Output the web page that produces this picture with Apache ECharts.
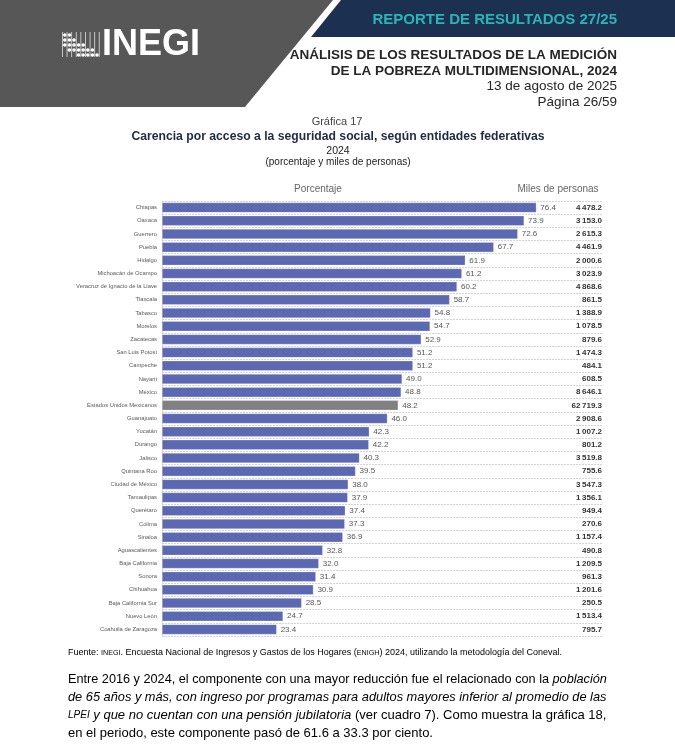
<!DOCTYPE html>
<html><head><meta charset="utf-8">
<script src="https://cdn.jsdelivr.net/npm/echarts@6/dist/echarts.min.js"></script>
<style>html,body{margin:0;padding:0;background:#fff}#c{width:675px;height:748px}</style>
</head><body><div id="c"></div>
<script>
const states = ["Chiapas","Oaxaca","Guerrero","Puebla","Hidalgo","Michoacán de Ocampo","Veracruz de Ignacio de la Llave","Tlaxcala","Tabasco","Morelos","Zacatecas","San Luis Potosí","Campeche","Nayarit","México","Estados Unidos Mexicanos","Guanajuato","Yucatán","Durango","Jalisco","Quintana Roo","Ciudad de México","Tamaulipas","Querétaro","Colima","Sinaloa","Aguascalientes","Baja California","Sonora","Chihuahua","Baja California Sur","Nuevo León","Coahuila de Zaragoza"];
const percent = [76.4,73.9,72.6,67.7,61.9,61.2,60.2,58.7,54.8,54.7,52.9,51.2,51.2,49.0,48.8,48.2,46.0,42.3,42.2,40.3,39.5,38.0,37.9,37.4,37.3,36.9,32.8,32.0,31.4,30.9,28.5,24.7,23.4];
const miles = [4478.2,3153.0,2615.3,4461.9,2000.6,3023.9,4868.6,861.5,1388.9,1078.5,879.6,1474.3,484.1,608.5,8646.1,62719.3,2908.6,1007.2,801.2,3519.8,755.6,3547.3,1356.1,949.4,270.6,1157.4,490.8,1209.5,961.3,1201.6,250.5,1513.4,795.7];
const nationalName = "Estados Unidos Mexicanos";

function fmtMiles(v){
  const parts = v.toFixed(1).split('.');
  return parts[0].replace(/\B(?=(\d{3})+(?!\d))/g, '\u2009') + '.' + parts[1];
}
const FONT = '"Liberation Sans", Arial, sans-serif';
const chart = echarts.init(document.getElementById('c'), null, {renderer:'canvas'});

// logo pattern (decorative)
const logo = [];
const lx = 62, ly = 32;
for (let i=0;i<9;i++){
  logo.push({type:'rect', shape:{x:lx+i*4.6, y:ly, width:0.9, height:25}, style:{fill:'#d0d0d0'}});
}
const dotRows = [[0,1,2],[0,1,2,3],[1,2,3],[2,3,4],[2,3,4],[3,4],[3,4],[4]];
dotRows.forEach((rows,i)=>{
  rows.forEach(j=>{
    logo.push({type:'circle', shape:{cx:lx+2.8+i*4.6, cy:ly+3+j*5, r:1.8}, style:{fill:'#ffffff'}});
  });
});

const textLines = [
  {y:679, fs:12.7, rich:[['n','Entre 2016 y 2024, el componente con una mayor reducción fue el relacionado con la '],['i','población']]},
  {y:697, fs:12.8, rich:[['i','de 65 años y más, con ingreso por programas para adultos mayores inferior al promedio de las']]},
  {y:715, fs:13, rich:[['s','LPEI'],['i',' y que no cuentan con una pensión jubilatoria'],['n',' (ver cuadro 7). Como muestra la gráfica 18,']]},
  {y:733, fs:13, rich:[['n','en el periodo, este componente pasó de 61.6 a 33.3 por ciento.']]}
];
function paraRich(fs){
  return {
    n:{fontFamily:FONT, fontSize:fs, color:'#000'},
    i:{fontFamily:FONT, fontSize:fs, fontStyle:'italic', color:'#000'},
    s:{fontFamily:FONT, fontSize:fs*0.77, fontStyle:'italic', color:'#000'}
  };
}

const graphics = [
  {type:'polygon', shape:{points:[[0,0],[333,0],[245,107],[0,107]]}, style:{fill:'#575757'}},
  {type:'polygon', shape:{points:[[341,0],[675,0],[675,37],[311,37]]}, style:{fill:'#1c3052'}},
  {type:'text', style:{text:'REPORTE DE RESULTADOS 27/25', x:617, y:20, textAlign:'right', textVerticalAlign:'middle', font:'bold 15px '+FONT, fill:'#2bb3b6'}},
  {type:'text', style:{text:'ANÁLISIS DE LOS RESULTADOS DE LA MEDICIÓN', x:617, y:55, textAlign:'right', textVerticalAlign:'middle', font:'bold 13.5px '+FONT, fill:'#262626'}},
  {type:'text', style:{text:'DE LA POBREZA MULTIDIMENSIONAL, 2024', x:617, y:71, textAlign:'right', textVerticalAlign:'middle', font:'bold 13.5px '+FONT, fill:'#262626'}},
  {type:'text', style:{text:'13 de agosto de 2025', x:617, y:86, textAlign:'right', textVerticalAlign:'middle', font:'13.5px '+FONT, fill:'#262626'}},
  {type:'text', style:{text:'Página 26/59', x:617, y:102, textAlign:'right', textVerticalAlign:'middle', font:'13.5px '+FONT, fill:'#262626'}},
  {type:'text', style:{text:'INEGI', x:102, y:45, textAlign:'left', textVerticalAlign:'middle', font:'bold 36px '+FONT, fill:'#ffffff'}},
  {type:'text', style:{text:'Gráfica 17', x:337, y:122, textAlign:'center', textVerticalAlign:'middle', font:'11px '+FONT, fill:'#444'}},
  {type:'text', style:{text:'Carencia por acceso a la seguridad social, según entidades federativas', x:338, y:137, textAlign:'center', textVerticalAlign:'middle', font:'bold 12.2px '+FONT, fill:'#1f2a44'}},
  {type:'text', style:{text:'2024', x:338, y:151, textAlign:'center', textVerticalAlign:'middle', font:'10.5px '+FONT, fill:'#222'}},
  {type:'text', style:{text:'(porcentaje y miles de personas)', x:338, y:162, textAlign:'center', textVerticalAlign:'middle', font:'10px '+FONT, fill:'#222'}},
  {type:'text', style:{text:'Porcentaje', x:318, y:189, textAlign:'center', textVerticalAlign:'middle', font:'10px '+FONT, fill:'#666'}},
  {type:'text', style:{text:'Miles de personas', x:558, y:189, textAlign:'center', textVerticalAlign:'middle', font:'10px '+FONT, fill:'#666'}},
  {type:'text', style:{text:'{a|Fuente: }{b|INEGI}{a|. Encuesta Nacional de Ingresos y Gastos de los Hogares (}{b|ENIGH}{a|) 2024, utilizando la metodología del Coneval.}', x:68, y:653, textVerticalAlign:'middle',
    rich:{a:{fontFamily:FONT, fontSize:9, color:'#555'}, b:{fontFamily:FONT, fontSize:7.2, color:'#555'}}}}
].concat(logo);

textLines.forEach(l=>{
  graphics.push({type:'text', style:{text:l.rich.map(r=>'{'+r[0]+'|'+r[1]+'}').join(''), x:68, y:l.y, textVerticalAlign:'middle', rich:paraRich(l.fs)}});
});

const barData = percent.map((v,i)=>({value:v, itemStyle:{color: states[i]===nationalName ? '#808080' : '#5c68b1'}}));

chart.setOption({
  animation:false,
  backgroundColor:'#fff',
  grid:{left:162, right:72, top:201, height:435, containLabel:false},
  xAxis:{type:'value', min:0, max:90, show:false},
  yAxis:[
    {type:'category', inverse:true, data:states,
     axisLine:{show:true, lineStyle:{color:'#cfcfcf', type:'dotted'}}, axisTick:{show:false},
     axisLabel:{fontFamily:FONT, fontSize:5.8, color:'#595959', margin:5},
     splitLine:{show:true, lineStyle:{color:'#c8c8c8', type:[2,1], width:0.8}}},
    {type:'category', inverse:true, data:states, position:'right',
     axisLine:{show:false}, axisTick:{show:false}, splitLine:{show:false},
     axisLabel:{inside:true, margin:1, fontFamily:FONT, fontSize:8, fontWeight:'bold', color:'#333',
       formatter:(v,i)=>fmtMiles(miles[i])}}
  ],
  series:[{
    type:'bar', data:barData, barWidth:10,
    itemStyle:{borderColor:'rgba(255,255,255,0.5)', borderWidth:0.5},
    label:{show:true, position:'right', distance:4, fontFamily:FONT, fontSize:8, color:'#555',
      formatter:p=>p.value.toFixed(1)}
  }],
  graphic:graphics
});
</script></body></html>
